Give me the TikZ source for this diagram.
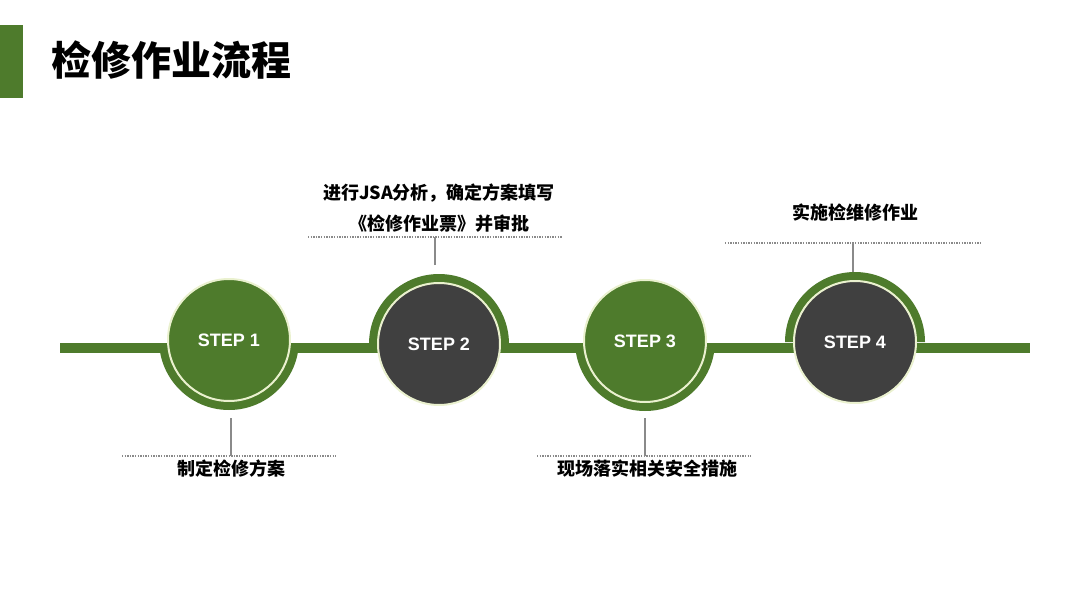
\documentclass[tikz,border=0pt]{standalone}
\usepackage{fontspec}
\setmainfont{Liberation Sans}
\newfontfamily\cjk{Noto Sans CJK SC}
\usetikzlibrary{calc}
\definecolor{lvse}{HTML}{4E7B2C}
\definecolor{shenhui}{HTML}{404040}
\definecolor{mibai}{HTML}{EAF1CF}
\definecolor{xianhui}{HTML}{8A8A8A}

\begin{document}
\begin{tikzpicture}[x=1pt, y=-1pt,
	buzhou/.style={circle, minimum size=122pt, inner sep=0pt, draw=mibai, line width=2pt, text=white, font=\bfseries\fontsize{18}{18}\selectfont},
	xuxian/.style={xianhui, line width=1.3pt, dash pattern=on 1.3pt off 1.3pt},
	shuxian/.style={xianhui, line width=1.5pt},
	shuoming/.style={font=\cjk\bfseries\fontsize{18}{31}\selectfont, align=center, inner sep=0pt}]
	\useasboundingbox (0,0) rectangle (1080,608);
	% 标题
	\fill[lvse] (0,25) rectangle (23,98);
	\node[anchor=west, inner sep=0pt, font=\cjk\bfseries\fontsize{40}{40}\selectfont] (biaoti) at (51,60) {检修作业流程};
	% 主线
	\draw[lvse, line width=10pt] (60,348) -- (1030,348);
	% 半圆环（下）
	\begin{scope}
		\clip (0,343) rectangle (1080,608);
		\fill[lvse] (229,340) ++(-70pt,0) arc[start angle=180, end angle=360, radius=70pt] -- cycle;
		\fill[lvse] (645,341) ++(-70pt,0) arc[start angle=180, end angle=360, radius=70pt] -- cycle;
	\end{scope}
	% 半圆环（上）
	\fill[lvse] (439,344) ++(-70pt,0) arc[start angle=180, end angle=0, radius=70pt] -- cycle;
	\fill[lvse] (855,342) ++(-70pt,0) arc[start angle=180, end angle=0, radius=70pt] -- cycle;
	% 步骤圆
	\node[buzhou, fill=lvse] (s1) at (229,340) {STEP 1};
	\node[buzhou, fill=shenhui] (s2) at (439,344) {STEP 2};
	\node[buzhou, fill=lvse] (s3) at (645,341) {STEP 3};
	\node[buzhou, fill=shenhui] (s4) at (855,342) {STEP 4};
	% 步骤1说明
	\coordinate (g1) at (231,418);
	\coordinate (d1) at (231,456);
	\draw[xuxian] (122,456) -- (336,456);
	\draw[shuxian] (g1) -- (d1);
	\node[shuoming] (l1) at (231,469) {制定检修方案};
	% 步骤2说明
	\coordinate (g2) at (435,265);
	\coordinate (d2) at (435,237);
	\draw[xuxian] (308,237) -- (562,237);
	\draw[shuxian] (g2) -- (d2);
	\node[shuoming] (l2) at (439,208) {进行JSA分析，确定方案填写\\《检修作业票》并审批};
	% 步骤3说明
	\coordinate (g3) at (645,418);
	\coordinate (d3) at (645,456);
	\draw[xuxian] (537,456) -- (751,456);
	\draw[shuxian] (g3) -- (d3);
	\node[shuoming] (l3) at (647,469) {现场落实相关安全措施};
	% 步骤4说明
	\coordinate (g4) at (853,272);
	\coordinate (d4) at (853,243);
	\draw[xuxian] (725,243) -- (980,243);
	\draw[shuxian] (g4) -- (d4);
	\node[shuoming] (l4) at (855,213) {实施检维修作业};
\end{tikzpicture}
\end{document}
